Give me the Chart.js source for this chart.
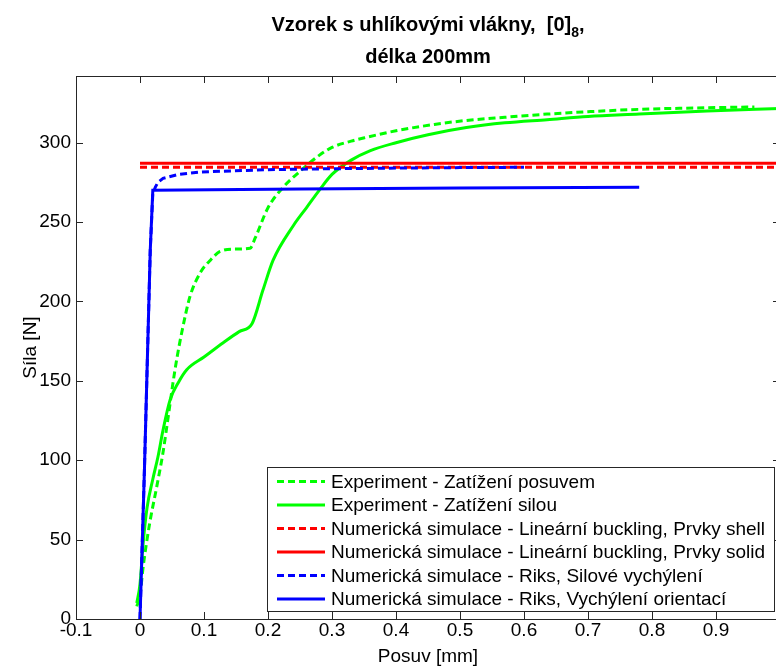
<!DOCTYPE html>
<html>
<head>
<meta charset="utf-8">
<script src="https://cdn.jsdelivr.net/npm/chart.js@4.4.1/dist/chart.umd.min.js"></script>
<style>
  html, body { margin: 0; padding: 0; overflow: hidden; background: #fff; }
  canvas { display: block; }
</style>
</head>
<body>
<canvas id="chart" width="790" height="668"></canvas>
<script>
// tick values
const xTicks = [-0.1, 0, 0.1, 0.2, 0.3, 0.4, 0.5, 0.6, 0.7, 0.8, 0.9];
const yTicks = [0, 50, 100, 150, 200, 250, 300];

// Experiment - Zatizeni posuvem
const expPosuvX = [-0.005, 0.0, 0.005, 0.015, 0.026, 0.036, 0.045, 0.052, 0.058, 0.065, 0.078, 0.094, 0.11, 0.125, 0.15, 0.172, 0.18, 0.2, 0.224, 0.25, 0.28, 0.3, 0.33, 0.355, 0.4, 0.46, 0.51, 0.57, 0.636, 0.7, 0.78, 0.886, 0.96];
const expPosuvY = [8, 15, 33, 60, 83, 105, 130, 150, 165, 180, 203, 218, 226, 231.5, 233, 233.5, 240, 259, 272, 282, 292, 297, 301, 303.5, 307.5, 311.5, 314, 316, 318, 319.5, 321, 322, 322.5];

// Experiment - Zatizeni silou
const expSilouX = [-0.005, 0.0, 0.005, 0.011, 0.02, 0.028, 0.036, 0.047, 0.06, 0.073, 0.1, 0.13, 0.155, 0.175, 0.192, 0.208, 0.24, 0.26, 0.28, 0.3, 0.33, 0.36, 0.4, 0.45, 0.51, 0.57, 0.636, 0.7, 0.78, 0.886, 1.0];
const expSilouY = [10, 22, 48, 70, 88, 102, 119, 138, 149, 157, 165, 174, 181, 186, 207, 226, 248, 259, 270, 280, 289, 295, 300, 305, 309.5, 312.5, 314.5, 316.5, 318, 320, 321.5];

// Linearni buckling
const shellX = [0, 1.0];
const shellY = [284.5, 284.5];
const solidX = [0, 1.0];
const solidY = [287, 287];

// Riks
const riksSilX = [0, 0.007, 0.016, 0.02, 0.024, 0.028, 0.036, 0.06, 0.094, 0.2, 0.28, 0.4, 0.5, 0.6];
const riksSilY = [0, 95, 232, 268, 272, 275, 277.5, 280, 281.5, 283, 283.5, 284, 284.3, 284.5];
const riksOriX = [0, 0.007, 0.016, 0.02, 0.25, 0.5, 0.78];
const riksOriY = [0, 95, 232, 270, 270.8, 271.5, 272];

function pts(xs, ys) {
    return xs.map(function (x, i) { return { x: x, y: ys[i] }; });
}

const FONT = '"Liberation Sans", Arial, sans-serif';
const AXIS = '#262626';

var series = [
    { label: "Experiment - Zatížení posuvem", color: "#00ff00", dash: [7, 4], smooth: true, data: pts(expPosuvX, expPosuvY) },
    { label: "Experiment - Zatížení silou", color: "#00ff00", dash: [], smooth: true, data: pts(expSilouX, expSilouY) },
    { label: "Numerická simulace - Lineární buckling, Prvky shell", color: "#ff0000", dash: [7, 4], data: pts(shellX, shellY) },
    { label: "Numerická simulace - Lineární buckling, Prvky solid", color: "#ff0000", dash: [], data: pts(solidX, solidY) },
    { label: "Numerická simulace - Riks, Silové vychýlení", color: "#0000ff", dash: [7, 4], data: pts(riksSilX, riksSilY) },
    { label: "Numerická simulace - Riks, Vychýlení orientací", color: "#0000ff", dash: [], data: pts(riksOriX, riksOriY) }
];

var datasets = series.map(function (s, i) {
    return {
        label: s.label,
        data: s.data,
        showLine: true,
        borderColor: s.color,
        backgroundColor: s.color,
        borderDash: s.dash,
        borderWidth: 3,
        pointRadius: 0,
        fill: false,
        cubicInterpolationMode: s.smooth ? "monotone" : "default",
        tension: 0,
        order: series.length - i
    };
});

// box, inward ticks, legend and titles (matlab look)
var decor = {
    id: "decor",
    afterDraw: function (chart) {
        var ctx = chart.ctx;
        var a = chart.chartArea;
        var xs = chart.scales.x, ys = chart.scales.y;
        ctx.save();

        ctx.strokeStyle = AXIS;
        ctx.lineWidth = 1;
        ctx.setLineDash([]);
        ctx.strokeRect(Math.round(a.left) + 0.5, Math.round(a.top) + 0.5, Math.round(a.right - a.left), Math.round(a.bottom - a.top));

        ctx.beginPath();
        xTicks.forEach(function (v) {
            var px = Math.round(xs.getPixelForValue(v)) + 0.5;
            ctx.moveTo(px, a.bottom); ctx.lineTo(px, a.bottom - 7);
            ctx.moveTo(px, a.top); ctx.lineTo(px, a.top + 7);
        });
        yTicks.forEach(function (v) {
            var py = Math.round(ys.getPixelForValue(v)) + 0.5;
            ctx.moveTo(a.left, py); ctx.lineTo(a.left + 7, py);
            ctx.moveTo(a.right, py); ctx.lineTo(a.right - 7, py);
        });
        ctx.stroke();

        // legend
        var lx = 267.5, ly = 467.5, lw = 507, lh = 144;
        ctx.fillStyle = "#fff";
        ctx.fillRect(lx, ly, lw, lh);
        ctx.strokeStyle = AXIS;
        ctx.strokeRect(lx, ly, lw, lh);
        ctx.font = "19px " + FONT;
        ctx.textBaseline = "middle";
        ctx.textAlign = "left";
        series.forEach(function (s, i) {
            var y = 481.5 + i * 23.5;
            ctx.strokeStyle = s.color;
            ctx.lineWidth = 3;
            ctx.setLineDash(s.dash);
            ctx.beginPath();
            ctx.moveTo(277, y); ctx.lineTo(325, y);
            ctx.stroke();
            ctx.fillStyle = "#000";
            ctx.fillText(s.label, 331, y + 1);
        });
        ctx.setLineDash([]);

        // titles
        var cx = (a.left + a.right) / 2;
        ctx.fillStyle = "#000";
        ctx.textBaseline = "alphabetic";
        ctx.font = "bold 20px " + FONT;
        var t1 = "Vzorek s uhlíkovými vlákny,  [0]";
        var w1 = ctx.measureText(t1).width;
        ctx.font = "bold 14px " + FONT;
        var wSub = ctx.measureText("8").width;
        ctx.font = "bold 20px " + FONT;
        var wComma = ctx.measureText(",").width;
        var x0 = cx - (w1 + wSub + wComma) / 2;
        ctx.textAlign = "left";
        ctx.fillText(t1, x0, 31);
        ctx.font = "bold 14px " + FONT;
        ctx.fillText("8", x0 + w1, 37);
        ctx.font = "bold 20px " + FONT;
        ctx.fillText(",", x0 + w1 + wSub, 31);
        ctx.textAlign = "center";
        ctx.fillText("délka 200mm", cx, 63);

        ctx.font = "19px " + FONT;
        ctx.fillText("Posuv [mm]", cx, 662);
        ctx.translate(36, (a.top + a.bottom) / 2);
        ctx.rotate(-Math.PI / 2);
        ctx.fillText("Síla [N]", 0, 0);
        ctx.restore();
    }
};

var ctx = document.getElementById("chart").getContext("2d");
var myChart = new Chart(ctx, {
    type: "scatter",
    data: { datasets: datasets },
    options: {
        responsive: false,
        animation: false,
        layout: { padding: { top: 76, right: 10, left: 0, bottom: 0 } },
        plugins: {
            legend: { display: false },
            tooltip: { enabled: false },
            title: { display: false }
        },
        scales: {
            x: {
                type: "linear",
                min: -0.1,
                max: 1.0,
                afterBuildTicks: function (s) { s.ticks = xTicks.map(function (v) { return { value: v }; }); },
                afterFit: function (s) { s.height = 49; },
                grid: { display: false, drawTicks: false },
                border: { display: false },
                ticks: {
                    autoSkip: false,
                    maxRotation: 0,
                    padding: 0,
                    color: "#000",
                    font: { family: FONT, size: 19 },
                    callback: function (v) { return String(Math.round(v * 10) / 10); }
                }
            },
            y: {
                type: "linear",
                min: 0,
                max: 342,
                afterBuildTicks: function (s) { s.ticks = yTicks.map(function (v) { return { value: v }; }); },
                afterFit: function (s) { s.width = 76; },
                grid: { display: false, drawTicks: false },
                border: { display: false },
                ticks: {
                    autoSkip: false,
                    padding: 5,
                    color: "#000",
                    font: { family: FONT, size: 19 },
                    callback: function (v) { return String(v); }
                }
            }
        }
    },
    plugins: [decor]
});
</script>
</body>
</html>
